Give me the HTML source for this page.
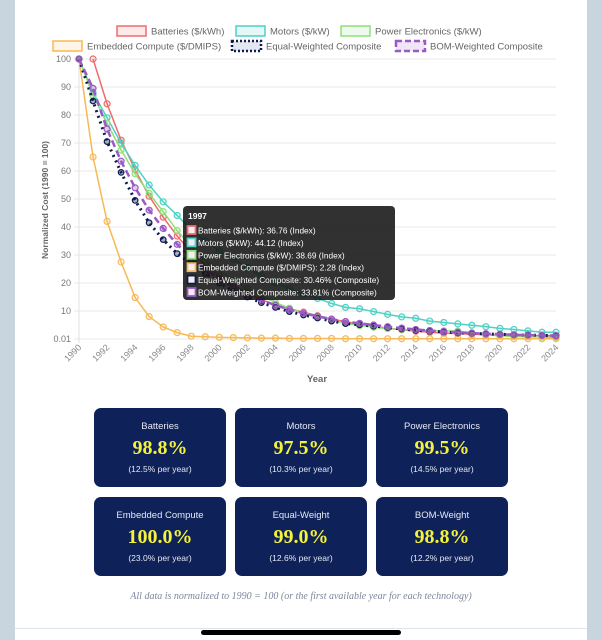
<!DOCTYPE html>
<html><head><meta charset="utf-8">
<style>
html,body{margin:0;padding:0;width:602px;height:640px;overflow:hidden;background:#c8d5df;font-family:"Liberation Sans",sans-serif;}
#card{position:absolute;left:15px;top:0;width:572px;height:640px;background:#fff;}
.box{position:absolute;width:132px;height:79px;background:#0e2158;border-radius:7px;color:#e6e9f2;text-align:center;}
.box .t{position:absolute;top:13px;width:100%;font-size:9.5px;}
.box .v{position:absolute;top:29px;width:100%;font-family:"Liberation Serif",serif;font-weight:bold;font-size:20px;color:#f4f23a;}
.box .s{position:absolute;top:56px;width:100%;font-size:8.5px;}
</style></head><body>
<div id="card"></div>
<svg id="chart" width="602" height="400" style="position:absolute;left:0;top:0" font-family="Liberation Sans, sans-serif"></svg>
<div class="box" style="left:94px;top:408px"><div class="t">Batteries</div><div class="v">98.8%</div><div class="s">(12.5% per year)</div></div>
<div class="box" style="left:235px;top:408px"><div class="t">Motors</div><div class="v">97.5%</div><div class="s">(10.3% per year)</div></div>
<div class="box" style="left:376px;top:408px"><div class="t">Power Electronics</div><div class="v">99.5%</div><div class="s">(14.5% per year)</div></div>
<div class="box" style="left:94px;top:497px"><div class="t">Embedded Compute</div><div class="v">100.0%</div><div class="s">(23.0% per year)</div></div>
<div class="box" style="left:235px;top:497px"><div class="t">Equal-Weight</div><div class="v">99.0%</div><div class="s">(12.6% per year)</div></div>
<div class="box" style="left:376px;top:497px"><div class="t">BOM-Weight</div><div class="v">98.8%</div><div class="s">(12.2% per year)</div></div>
<div style="position:absolute;left:0;width:602px;top:591px;text-align:center;font-family:'Liberation Serif',serif;font-style:italic;font-size:10px;color:#7d879c">All data is normalized to 1990 = 100 (or the first available year for each technology)</div>
<div style="position:absolute;left:15px;width:572px;top:628px;height:1px;background:#dde3ea"></div>
<div style="position:absolute;left:201px;width:200px;top:630px;height:5px;border-radius:3px;background:#000"></div>
<script>
const svg=document.getElementById('chart');
let h='';
const X=y=>79+(y-1990)*14.03, Y=v=>339-v*2.8;
for(let i=0;i<=10;i++){const v=i*10;const yy=Y(v);
 h+=`<line x1="74" x2="556" y1="${yy}" y2="${yy}" stroke="#e8e8e8" stroke-width="1"/>`;
 h+=`<text x="71" y="${yy+3}" font-size="9" fill="#777" text-anchor="end">${i==0?'0.01':v}</text>`;}
h+=`<line x1="79" x2="79" y1="59" y2="343" stroke="#e0e0e0"/>`;
for(let y=1990;y<=2024;y+=2){const x=X(y);h+=`<text transform="translate(${x+3},${348}) rotate(-45)" font-size="9" fill="#888" text-anchor="end">${y}</text>`;}
h+=`<text x="317" y="382" font-size="9.5" font-weight="bold" fill="#666" text-anchor="middle">Year</text>`;
h+=`<text transform="translate(48,200) rotate(-90)" font-size="8.5" font-weight="bold" fill="#666" text-anchor="middle">Normalized Cost (1990 = 100)</text>`;
const S=[
 {c:'#f06b6b',f:'rgba(240,107,107,.15)',s:1991,d:[100,84,71,60.5,51,43.5,36.76,31,26.5,22.5,19,16.5,14,12.3,10.8,9.6,8.3,7.1,6.2,5.2,4.5,3.9,3.3,2.8,2.4,2.1,1.9,1.7,1.5,1.4,1.3,1.3,1.2,1.2],w:1.5},
 {c:'#4fd1c5',f:'rgba(79,209,197,.15)',s:1990,d:[100,88,79,70,62,55,49,44.12,39,35,31.5,28.5,25.5,22.5,20,18,16,14.5,12.7,11.3,10.8,9.8,8.8,7.9,7.4,6.4,5.9,5.4,4.9,4.4,3.8,3.4,2.9,2.4,2.4],w:1.5},
 {c:'#8ee07a',f:'rgba(142,224,122,.15)',s:1990,d:[100,87,77,67.5,59,52,45.5,38.69,33,28.5,24.5,21,18,15.5,13,11,9.3,7.9,6.7,5.6,4.8,4.2,3.7,3.4,3.2,3,2.9,2.8,2.2,1.5,1.1,0.9,0.8,0.7,0.6],w:1.5},
 {c:'#f7b955',f:'rgba(247,185,85,.15)',s:1990,d:[100,65,42,27.5,14.8,8,4.3,2.28,1,0.8,0.6,0.5,0.4,0.3,0.3,0.2,0.2,0.2,0.2,0.1,0.1,0.1,0.1,0.1,0.1,0.1,0.1,0.1,0.1,0.1,0.1,0.1,0.1,0.1,0.1],w:1.5},
 {c:'#0d1b4f',f:'rgba(13,27,79,.35)',s:1990,d:[100,85,70.5,59.5,49.5,41.5,35.5,30.46,27,23.5,20,17,15,13,11.3,9.8,8.6,7.5,6.4,5.5,5.1,4.6,4.1,3.6,3.1,2.8,2.5,2.2,2,1.8,1.7,1.5,1.4,1.3,1.1],w:3,dash:'2,4',r:2.8},
 {c:'#9b59c6',f:'rgba(155,89,198,.3)',s:1990,d:[100,89.5,75,63.5,54,46,39.5,33.81,29,25,21.5,18.5,16,14,12,10.5,9.2,8.1,7.1,6.2,5.6,5,4.4,3.9,3.4,3,2.7,2.4,2.1,1.9,1.7,1.5,1.4,1.3,1.2],w:2.5,dash:'7,4'}
];
S.forEach(s=>{const pts=s.d.map((v,i)=>[X(s.s+i),Y(v)]);
 h+=`<polyline fill="none" stroke="${s.c}" stroke-width="${s.w}" ${s.dash?`stroke-dasharray="${s.dash}"`:''} points="${pts.map(p=>p.join(',')).join(' ')}"/>`;
 pts.forEach(p=>h+=`<circle cx="${p[0]}" cy="${p[1]}" r="${s.r||3}" fill="${s.f}" stroke="${s.c}" stroke-width="1.2"/>`);});
const L=[[117,31,'Batteries ($/kWh)','#f06b6b','rgba(240,107,107,.15)',''],[236,31,'Motors ($/kW)','#4fd1c5','rgba(79,209,197,.15)',''],[341,31,'Power Electronics ($/kW)','#8ee07a','rgba(142,224,122,.15)',''],
[53,46,'Embedded Compute ($/DMIPS)','#f7b955','rgba(247,185,85,.15)',''],[232,46,'Equal-Weighted Composite','#0d1b4f','#e4e7ef','2,2'],[396,46,'BOM-Weighted Composite','#9b59c6','rgba(155,89,198,.15)','6,3']];
L.forEach(l=>{h+=`<rect x="${l[0]}" y="${l[1]-5}" width="29" height="10" fill="${l[4]}" stroke="${l[3]}" stroke-width="${l[5]?2.5:1.5}" ${l[5]?`stroke-dasharray="${l[5]}"`:''}/>`;
 h+=`<text x="${l[0]+34}" y="${l[1]+3.5}" font-size="9.5" fill="#666">${l[2]}</text>`;});
h+=`<rect x="183" y="206" width="212" height="94" rx="4" fill="rgba(20,20,20,.88)"/>`;
h+=`<text x="188" y="219" font-size="8.5" font-weight="bold" fill="#fff">1997</text>`;
const T=[['Batteries ($/kWh): 36.76 (Index)','#f06b6b'],['Motors ($/kW): 44.12 (Index)','#4fd1c5'],['Power Electronics ($/kW): 38.69 (Index)','#8ee07a'],['Embedded Compute ($/DMIPS): 2.28 (Index)','#f7b955'],['Equal-Weighted Composite: 30.46% (Composite)','#0d1b4f'],['BOM-Weighted Composite: 33.81% (Composite)','#9b59c6']];
T.forEach((t,i)=>{const y=231+i*12.4;h+=`<rect x="187.5" y="${y-5}" width="8" height="8" fill="#f4eef4" stroke="${t[1]}" stroke-width="1.8"/>`;
 h+=`<text x="198" y="${y+2.5}" font-size="8.3" fill="#fff">${t[0]}</text>`;});
svg.innerHTML=h;
</script>
</body></html>
